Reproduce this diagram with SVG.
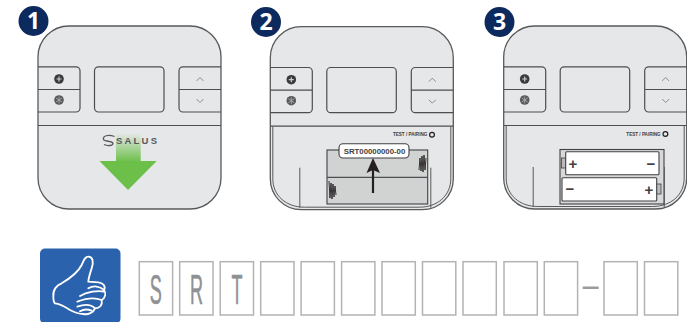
<svg xmlns="http://www.w3.org/2000/svg" xmlns:xlink="http://www.w3.org/1999/xlink" width="687" height="322" viewBox="0 0 687 322">
<style>
.body{fill:#e6e7e8;stroke:#58595b;stroke-width:1.3}
.ln{fill:none;stroke:#4d4e50;stroke-width:1.2}
.thin{fill:none;stroke:#58595b;stroke-width:1}
.chev{fill:none;stroke:#808285;stroke-width:.9}
.badge{fill:#0c2a5e}
.num{font:bold 23px "Open Sans","Liberation Sans",sans-serif;fill:#fff;text-anchor:middle}
.box{fill:#fff;stroke:#b3b3b3;stroke-width:1.5}
.let{font:43px "Liberation Sans",sans-serif;fill:#8f9193;stroke:#8f9193;stroke-width:.6;text-anchor:middle}
.tp{font:bold 4.6px "Liberation Sans",sans-serif;fill:#414042;text-anchor:end}
.bat{fill:#fff;stroke:#414042;stroke-width:1.1}
.sym{font:bold 15px "Liberation Sans",sans-serif;fill:#414042;text-anchor:middle}
.zig{fill:none;stroke:#231f20;stroke-width:.9}
</style>
<defs>
<linearGradient id="fade" x1="0" y1="0" x2="0" y2="1">
<stop offset="0" stop-color="#6cc04a" stop-opacity="0"/>
<stop offset="1" stop-color="#6cc04a"/>
</linearGradient>
<g id="face">
<rect class="body" x="38" y="26" width="183" height="183" rx="31"/>
<path class="ln" d="M38,66.800H76a4,4 0 0 1 4,4V108a4,4 0 0 1 -4,4H38M38,89.500H80"/>
<rect class="ln" x="94.500" y="66.800" width="69.500" height="45.200" rx="4"/>
<path class="ln" d="M221,66.800H183a4,4 0 0 0 -4,4V108a4,4 0 0 0 4,4H221M221,89.500H179"/>
<path class="ln" d="M38,125.500H221"/>
<circle cx="59" cy="79" r="4.800" fill="#3a3a3c"/>
<path d="M59,76.500V81.500M56.500,79H61.500" stroke="#ccc" stroke-width="1.200"/>
<circle cx="59" cy="100" r="4.800" fill="#58595b"/>
<path d="M56,98L62,102M62,98L56,102M59,96.500V103.500" stroke="#aaa" stroke-width=".9"/>
<polyline class="chev" points="196.500,81 200,77.500 203.500,81"/>
<polyline class="chev" points="196.500,99 200,102.500 203.500,99"/>
</g>
<g id="inner">
<path class="thin" d="M40.500,126V178C40.500,195 54,206.500 72,206.500H187C205,206.500 218.500,195 218.500,178V126"/>
<path class="thin" d="M67.500,167V207M198.500,167V207"/>
<text class="tp" x="195" y="135.500">TEST / PAIRING</text>
<circle cx="199.700" cy="134" r="2.400" fill="none" stroke="#231f20" stroke-width="1.200"/>
</g>
</defs>

<g id="step-1">
<use xlink:href="#face" href="#face"/>
<g id="pull-arrow">
<rect x="116" y="133" width="24.700" height="29" fill="url(#fade)"/>
<polygon points="99.500,161 156.700,161 128,190" fill="#6cc04a"/>
</g>
<path d="M114.500,136.500C108,134 102.500,136 103.500,139.500C104.500,142 112.500,140.500 113,143.500C113,146 107,146 104,144.500" fill="none" stroke="#58595b" stroke-width="1.300"/>
<text x="116" y="144" font-family="Liberation Sans, sans-serif" font-size="9.500" font-weight="bold" fill="#58595b" textLength="41" lengthAdjust="spacing">SALUS</text>
<circle class="badge" cx="33.500" cy="21" r="15"/>
<text class="num" x="33.500" y="29">1</text>
</g>

<g id="step-2">
<g transform="translate(232.300,0.700)">
<use xlink:href="#face" href="#face"/>
<use xlink:href="#inner" href="#inner"/>
</g>
<rect x="327" y="150" width="100.700" height="54" fill="#d1d2d2" stroke="#414042" stroke-width="1.100"/>
<path class="ln" d="M327,177.300H427.700"/>
<path class="zig" d="M419,170L420,158L421,171L422,156L423,172L424,155L425,170L426,158"/>
<path class="zig" d="M329,181L330,198L331,183L332,199L333,184L334,197L335,186L336,195"/>
<rect x="339" y="143.700" width="70" height="14.300" rx="4" fill="#fff" stroke="#414042" stroke-width="1.100"/>
<text x="374.500" y="154" font-family="Liberation Sans, sans-serif" font-size="7.800" font-weight="bold" fill="#414042" text-anchor="middle">SRT00000000-00</text>
<g id="serial-arrow">
<path d="M373,193V170" stroke="#231f20" stroke-width="2.200" fill="none"/>
<polygon points="373,158 380,173 373,170 366.500,173" fill="#231f20"/>
</g>
<circle class="badge" cx="266" cy="22" r="15"/>
<text class="num" x="266" y="30">2</text>
</g>

<g id="step-3">
<g transform="translate(465.700,0)">
<use xlink:href="#face" href="#face"/>
<use xlink:href="#inner" href="#inner"/>
</g>
<rect x="560" y="149.500" width="104" height="54.500" fill="#d8d8d8" stroke="#414042" stroke-width="1.100"/>
<rect x="561.500" y="158" width="4.500" height="10" fill="#bbb" stroke="#414042" stroke-width=".8"/>
<rect class="bat" x="565.700" y="151.700" width="93.300" height="23" rx="1"/>
<rect x="656.500" y="184" width="4.500" height="10" fill="#bbb" stroke="#414042" stroke-width=".8"/>
<rect class="bat" x="562" y="177.700" width="94.700" height="23.300" rx="1"/>
<text class="sym" x="573" y="169">+</text>
<text class="sym" x="651" y="169">−</text>
<text class="sym" x="570" y="194">−</text>
<text class="sym" x="649" y="195">+</text>
<circle class="badge" cx="499.500" cy="22" r="15"/>
<text class="num" x="499.500" y="30">3</text>
</g>

<g id="thumbs-up">
<rect x="40" y="248.500" width="80.500" height="75" rx="5" fill="#2a62ae"/>
<g transform="translate(20,240) scale(.3333)" fill="none" stroke="#fff" stroke-width="5.500" stroke-linejoin="round" stroke-linecap="round">
<path d="M100,170C98,150 110,135 125,130C150,115 175,95 185,75C192,60 195,50 205,50C218,50 222,65 215,85C210,100 205,115 205,125L235,127C250,128 258,140 252,150C260,160 255,175 245,180C248,195 240,205 225,205C220,218 205,225 190,222C175,222 165,218 150,210C135,200 115,190 105,190C100,185 100,178 100,170Z"/>
<path d="M205,145C220,136 240,138 252,150M180,168C200,156 235,150 252,155M172,185C195,176 225,172 245,180M172,200C195,192 215,195 225,205M180,214C190,208 205,208 215,212"/>
</g>
</g>

<g id="code-boxes">
<rect class="box" x="139.300" y="261.700" width="33.300" height="53.300"/>
<rect class="box" x="179.700" y="261.700" width="33.300" height="53.300"/>
<rect class="box" x="220.200" y="261.700" width="33.300" height="53.300"/>
<rect class="box" x="260.700" y="261.700" width="33.300" height="53.300"/>
<rect class="box" x="301.100" y="261.700" width="33.300" height="53.300"/>
<rect class="box" x="341.600" y="261.700" width="33.300" height="53.300"/>
<rect class="box" x="382" y="261.700" width="33.300" height="53.300"/>
<rect class="box" x="422.500" y="261.700" width="33.300" height="53.300"/>
<rect class="box" x="463" y="261.700" width="33.300" height="53.300"/>
<rect class="box" x="504" y="261.700" width="33.300" height="53.300"/>
<rect class="box" x="544.300" y="261.700" width="33.300" height="53.300"/>
<rect class="box" x="604" y="261.700" width="33.300" height="53.300"/>
<rect class="box" x="644.500" y="261.700" width="33.300" height="53.300"/>
<text class="let" transform="translate(155.800,304) scale(.42,1)">S</text>
<text class="let" transform="translate(196.500,304) scale(.42,1)">R</text>
<text class="let" transform="translate(237,304) scale(.42,1)">T</text>
<rect x="582.700" y="286.500" width="16" height="2.500" fill="#9a9b9d"/>
</g>
</svg>
